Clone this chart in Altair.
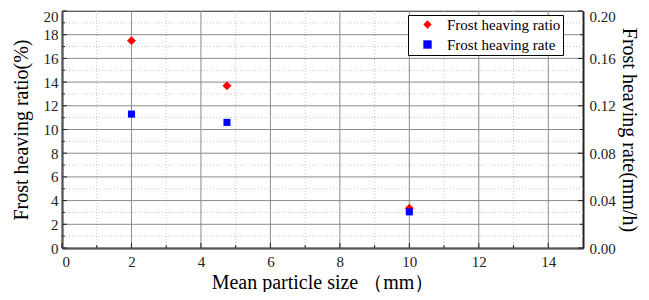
import altair as alt
import pandas as pd

size_mm = [2, 4.75, 10]
ratio_pct = [17.5, 13.7, 3.35]
rate_mmh = [0.113, 0.106, 0.0305]
series = ["Frost heaving ratio", "Frost heaving rate"]

x_major = [0, 2, 4, 6, 8, 10, 12, 14]
x_minor = [1, 3, 5, 7, 9, 11, 13]
y_major = [0, 2, 4, 6, 8, 10, 12, 14, 16, 18, 20]
y_minor = [1, 3, 5, 7, 9, 11, 13, 15, 17, 19]
r_major = [0.0, 0.04, 0.08, 0.12, 0.16, 0.20]
r_minor = [0.02, 0.06, 0.10, 0.14, 0.18]

W, H = 521, 237
FONT = "Tinos, 'Liberation Serif', 'Times New Roman', Times, serif"

xs = alt.Scale(domain=[0, 15], nice=False, zero=False)
ys = alt.Scale(domain=[0, 20], nice=False)
rs = alt.Scale(domain=[0, 0.2], nice=False)
col = alt.Scale(domain=series, range=["#ff0000", "#0000ff"])
shp = alt.Scale(domain=series, range=["diamond", "square"])

df_ratio = pd.DataFrame({"x": size_mm, "y": ratio_pct, "s": series[0]})
df_rate = pd.DataFrame({"x": size_mm, "y": rate_mmh, "s": series[1]})

gx_minor = alt.Chart(pd.DataFrame({"x": x_minor})).mark_rule(
    color="#c8c8c8", strokeDash=[1, 2], strokeWidth=1
).encode(x=alt.X("x:Q", scale=xs, axis=None))
gy_minor = alt.Chart(pd.DataFrame({"y": y_minor})).mark_rule(
    color="#c8c8c8", strokeDash=[1, 2], strokeWidth=1
).encode(y=alt.Y("y:Q", scale=ys, axis=None))
gx_major = alt.Chart(pd.DataFrame({"x": x_major})).mark_rule(
    color="#8c8c8c", strokeWidth=1
).encode(x=alt.X("x:Q", scale=xs, axis=None))
gy_major = alt.Chart(pd.DataFrame({"y": y_major})).mark_rule(
    color="#8c8c8c", strokeWidth=1
).encode(y=alt.Y("y:Q", scale=ys, axis=None))

tl_major = alt.Chart(pd.DataFrame({"y": y_major})).mark_rule(color="#222", strokeWidth=1).encode(
    y=alt.Y("y:Q", scale=ys, axis=None), x=alt.value(0), x2=alt.value(5))
tl_minor = alt.Chart(pd.DataFrame({"y": y_minor})).mark_rule(color="#222", strokeWidth=1).encode(
    y=alt.Y("y:Q", scale=ys, axis=None), x=alt.value(0), x2=alt.value(3))
tr_major = alt.Chart(pd.DataFrame({"y": r_major})).mark_rule(color="#222", strokeWidth=1).encode(
    y=alt.Y("y:Q", scale=rs, axis=None), x=alt.value(W), x2=alt.value(W - 5))
tr_minor = alt.Chart(pd.DataFrame({"y": r_minor})).mark_rule(color="#222", strokeWidth=1).encode(
    y=alt.Y("y:Q", scale=rs, axis=None), x=alt.value(W), x2=alt.value(W - 3))
tb_major = alt.Chart(pd.DataFrame({"x": x_major})).mark_rule(color="#222", strokeWidth=1).encode(
    x=alt.X("x:Q", scale=xs, axis=None), y=alt.value(H), y2=alt.value(H - 5))
tb_minor = alt.Chart(pd.DataFrame({"x": x_minor})).mark_rule(color="#222", strokeWidth=1).encode(
    x=alt.X("x:Q", scale=xs, axis=None), y=alt.value(H), y2=alt.value(H - 3))

legend = alt.Legend(
    title=None, orient="none", legendX=346, legendY=4,
    strokeColor="#000", fillColor="#fff", padding=2,
    labelFont=FONT, labelFontSize=15, labelColor="#000",
    symbolStrokeWidth=0, rowPadding=4, labelOffset=12, symbolSize=70,
    symbolOffset=10,
)

p_ratio = alt.Chart(df_ratio).mark_point(filled=True, size=80, opacity=1).encode(
    x=alt.X("x:Q", scale=xs, title="Mean particle size （mm）",
            axis=alt.Axis(values=x_major, format="d", grid=False, ticks=False,
                          labelPadding=6, titlePadding=3)),
    y=alt.Y("y:Q", scale=ys, title="Frost heaving ratio(%)",
            axis=alt.Axis(values=y_major, format="d", grid=False, ticks=False,
                          labelPadding=4, titlePadding=12,
                          labelOffset={"condition": {"test": "datum.value >= 20", "value": 5}, "value": 0})),
    color=alt.Color("s:N", scale=col, legend=legend),
    shape=alt.Shape("s:N", scale=shp, legend=legend),
)
p_rate = alt.Chart(df_rate).mark_point(filled=True, size=50, opacity=1).encode(
    x=alt.X("x:Q", scale=xs, axis=None),
    y=alt.Y("y:Q", scale=rs, title="Frost heaving rate(mm/h)",
            axis=alt.Axis(orient="right", values=r_major, format=".2f", grid=False,
                          ticks=False, labelPadding=6, titlePadding=3,
                          labelOffset={"condition": {"test": "datum.value >= 0.199", "value": 5}, "value": 0})),
    color=alt.Color("s:N", scale=col, legend=legend),
    shape=alt.Shape("s:N", scale=shp, legend=legend),
)

chart = alt.layer(
    gx_minor, gy_minor, gx_major, gy_major,
    tl_major, tl_minor, tr_major, tr_minor, tb_major, tb_minor,
    p_ratio, p_rate,
).resolve_scale(y="independent", color="shared", shape="shared").resolve_axis(
    x="independent"
).properties(
    width=W, height=H,
    autosize=alt.AutoSizeParams(type="none"),
    padding={"left": 54, "top": 3, "right": 58, "bottom": 44},
).configure(
    font=FONT
).configure_view(
    stroke="#333", strokeWidth=1
).configure_axis(
    domainColor="#222", domainWidth=2,
    labelFont=FONT, labelFontSize=15, labelColor="#222",
    titleFont=FONT, titleFontSize=20, titleFontWeight="normal", titleColor="#000",
).configure_legend(
    labelFont=FONT
)

chart.save("out.html", embed_options={"renderer": "svg", "actions": False})
